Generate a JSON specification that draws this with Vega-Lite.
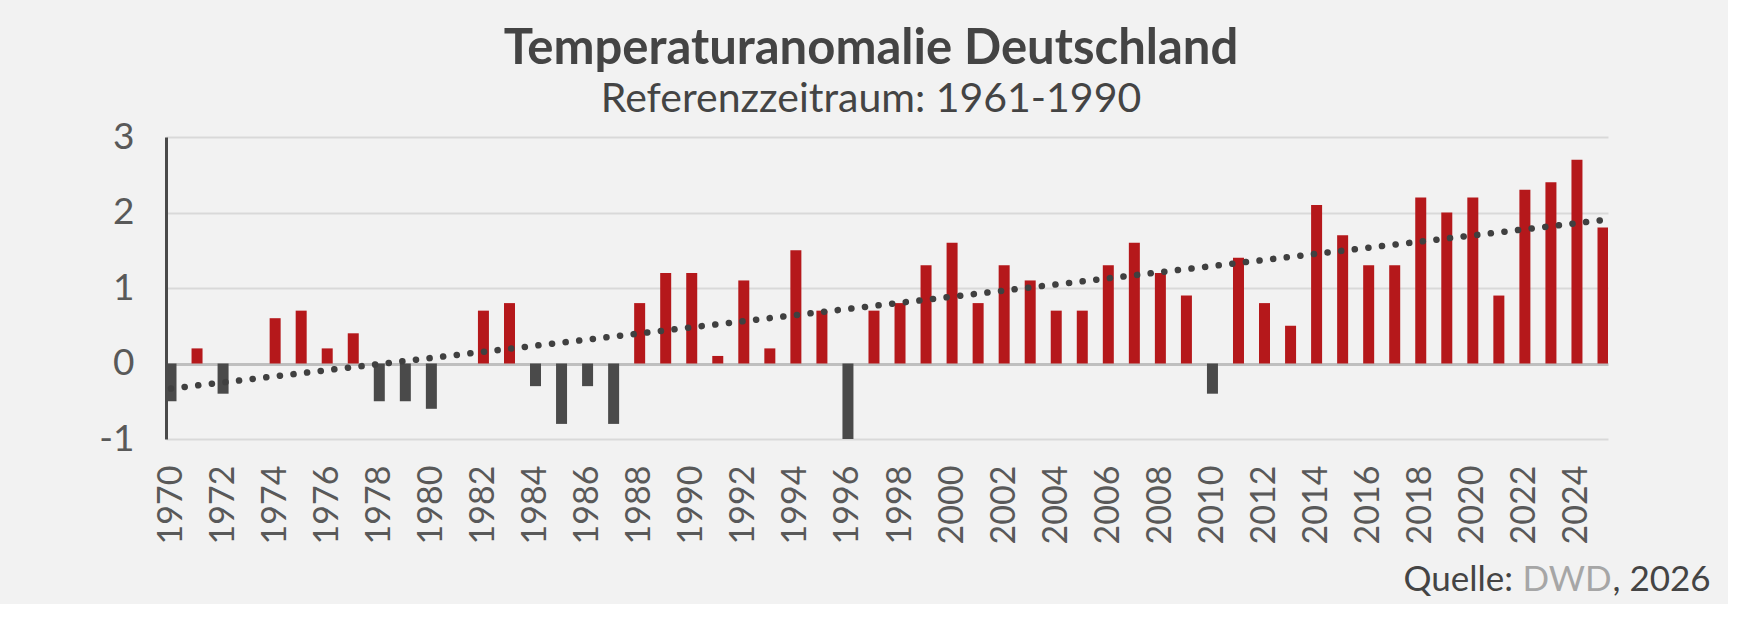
{
  "$schema": "https://vega.github.io/schema/vega-lite/v6.json",
  "description": "Temperaturanomalie Deutschland, Referenzzeitraum 1961-1990",
  "autosize": "none",
  "width": 1442,
  "height": 302,
  "padding": {"left": 166, "top": 137, "right": 120, "bottom": 165},
  "background": "#F2F2F2",
  "title": {
    "text": "Temperaturanomalie Deutschland",
    "subtitle": "Referenzzeitraum: 1961-1990",
    "anchor": "middle",
    "frame": "group",
    "dx": -16,
    "offset": -2,
    "font": "Lato",
    "fontSize": 49,
    "fontWeight": "bold",
    "color": "#444444",
    "subtitleFont": "Lato",
    "subtitleFontSize": 41,
    "subtitleColor": "#444444",
    "subtitlePadding": 6
  },
  "config": {
    "view": {"stroke": null},
    "font": "Lato"
  },
  "data": {
    "values": [
      {"year": 1970, "value": -0.5},
      {"year": 1971, "value": 0.2},
      {"year": 1972, "value": -0.4},
      {"year": 1973, "value": 0.0},
      {"year": 1974, "value": 0.6},
      {"year": 1975, "value": 0.7},
      {"year": 1976, "value": 0.2},
      {"year": 1977, "value": 0.4},
      {"year": 1978, "value": -0.5},
      {"year": 1979, "value": -0.5},
      {"year": 1980, "value": -0.6},
      {"year": 1981, "value": 0.0},
      {"year": 1982, "value": 0.7},
      {"year": 1983, "value": 0.8},
      {"year": 1984, "value": -0.3},
      {"year": 1985, "value": -0.8},
      {"year": 1986, "value": -0.3},
      {"year": 1987, "value": -0.8},
      {"year": 1988, "value": 0.8},
      {"year": 1989, "value": 1.2},
      {"year": 1990, "value": 1.2},
      {"year": 1991, "value": 0.1},
      {"year": 1992, "value": 1.1},
      {"year": 1993, "value": 0.2},
      {"year": 1994, "value": 1.5},
      {"year": 1995, "value": 0.7},
      {"year": 1996, "value": -1.0},
      {"year": 1997, "value": 0.7},
      {"year": 1998, "value": 0.8},
      {"year": 1999, "value": 1.3},
      {"year": 2000, "value": 1.6},
      {"year": 2001, "value": 0.8},
      {"year": 2002, "value": 1.3},
      {"year": 2003, "value": 1.1},
      {"year": 2004, "value": 0.7},
      {"year": 2005, "value": 0.7},
      {"year": 2006, "value": 1.3},
      {"year": 2007, "value": 1.6},
      {"year": 2008, "value": 1.2},
      {"year": 2009, "value": 0.9},
      {"year": 2010, "value": -0.4},
      {"year": 2011, "value": 1.4},
      {"year": 2012, "value": 0.8},
      {"year": 2013, "value": 0.5},
      {"year": 2014, "value": 2.1},
      {"year": 2015, "value": 1.7},
      {"year": 2016, "value": 1.3},
      {"year": 2017, "value": 1.3},
      {"year": 2018, "value": 2.2},
      {"year": 2019, "value": 2.0},
      {"year": 2020, "value": 2.2},
      {"year": 2021, "value": 0.9},
      {"year": 2022, "value": 2.3},
      {"year": 2023, "value": 2.4},
      {"year": 2024, "value": 2.7},
      {"year": 2025, "value": 1.8}
    ]
  },
  "encoding": {
    "x": {
      "field": "year",
      "type": "quantitative",
      "scale": {"domain": [1970, 2025], "nice": false, "zero": false},
      "axis": {
        "values": [1970, 1972, 1974, 1976, 1978, 1980, 1982, 1984, 1986, 1988, 1990, 1992, 1994, 1996, 1998, 2000, 2002, 2004, 2006, 2008, 2010, 2012, 2014, 2016, 2018, 2020, 2022, 2024],
        "format": "d",
        "labelAngle": -90,
        "labelFontSize": 34,
        "labelColor": "#595959",
        "labelPadding": 26,
        "labelFlush": false,
        "labelOverlap": false,
        "labelBound": false,
        "ticks": false,
        "domain": false,
        "grid": false,
        "title": "Quelle:",
        "titleFontSize": 35,
        "titleFontWeight": "normal",
        "titleColor": "#444444",
        "titleAlign": "left",
        "titleBaseline": "alphabetic",
        "titleX": 1237,
        "titleY": 151
      }
    }
  },
  "layer": [
    {
      "mark": {"type": "bar", "width": 11, "clip": true},
      "encoding": {
        "y": {
          "field": "value",
          "type": "quantitative",
          "scale": {"domain": [-1, 3], "nice": false},
          "axis": {
            "values": [-1, 0, 1, 2, 3],
            "labelExpr": "'' + datum.value",
            "labelFontSize": 37,
            "labelColor": "#595959",
            "labelPadding": 32,
            "ticks": false,
            "domainColor": "#4A4A4A",
            "domainWidth": 3,
            "grid": true,
            "gridColor": {"condition": {"test": "datum.value === 0", "value": "#BFBFBF"}, "value": "#D9D9D9"},
            "gridWidth": {"condition": {"test": "datum.value === 0", "value": 3}, "value": 2},
            "title": ", 2026",
            "titleAngle": 0,
            "titleFontSize": 35,
            "titleFontWeight": "normal",
            "titleColor": "#444444",
            "titleAlign": "left",
            "titleBaseline": "alphabetic",
            "titleX": 1446,
            "titleY": 453
          }
        },
        "y2": {"datum": 0},
        "color": {
          "condition": {"test": "datum.value >= 0", "value": "#B5181B"},
          "value": "#4A4A4A"
        }
      }
    },
    {
      "transform": [
        {"regression": "value", "on": "year", "extent": [1970, 2025]}
      ],
      "mark": {
        "type": "line",
        "color": "#404040",
        "strokeWidth": 6.5,
        "strokeDash": [0.1, 13.6],
        "strokeCap": "round"
      },
      "encoding": {
        "y": {
          "field": "value",
          "type": "quantitative",
          "axis": {
            "orient": "right",
            "labels": false,
            "ticks": false,
            "domain": false,
            "grid": false,
            "title": "DWD",
            "titleAngle": 0,
            "titleFontSize": 35,
            "titleFontWeight": "normal",
            "titleColor": "#A6A6A6",
            "titleAlign": "left",
            "titleBaseline": "alphabetic",
            "titleX": -86,
            "titleY": 453
          }
        }
      }
    }
  ],
  "resolve": {"axis": {"y": "independent"}}
}
